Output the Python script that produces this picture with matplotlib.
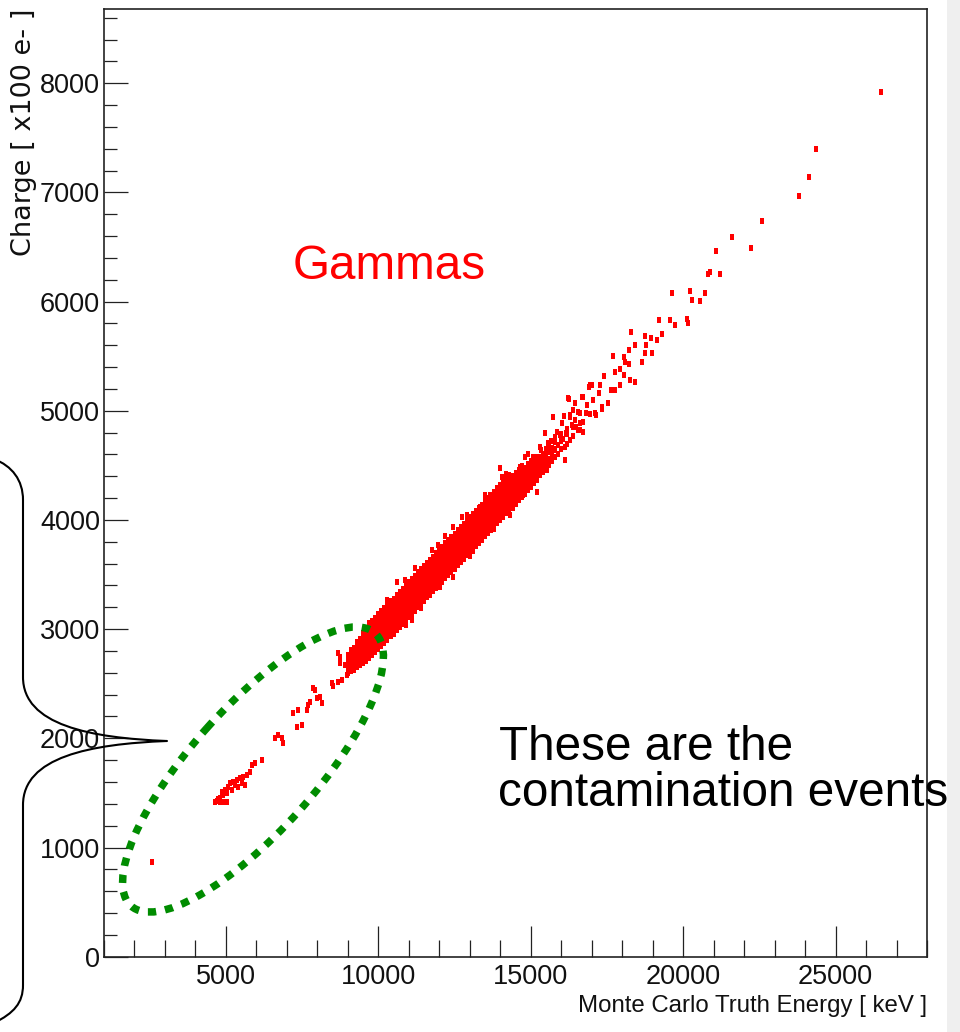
import matplotlib
matplotlib.use("Agg")
import matplotlib.pyplot as plt
from matplotlib.patches import Ellipse, PathPatch, Rectangle
from matplotlib.path import Path
from matplotlib.ticker import MultipleLocator

# ---------------------------------------------------------------- data
# Isolated low-energy events (contamination streak)
low_energy = [2580, 4640, 4695, 4750, 4803, 4912, 5023, 4803, 4912, 4859, 4967,
              5023, 5076, 5131, 5187, 5240, 5296, 5351, 5404, 5460, 5515, 5568,
              5624, 5680, 5788, 5844, 5952, 6192, 6610, 6720, 6830, 6880, 7210,
              7375, 7320, 7485, 7650, 7700, 7755, 7920, 7975, 8085, 8140, 7866,
              8470, 8525, 8690, 8800, 8960, 8690, 8740, 8905, 8742]
low_charge = [864, 1420, 1429, 1440, 1419, 1419, 1419, 1450, 1481, 1511, 1527,
              1496, 1557, 1588, 1527, 1603, 1572, 1618, 1557, 1634, 1588, 1648,
              1572, 1664, 1694, 1755, 1771, 1801, 2000, 2030, 2000, 1960, 2230,
              2260, 2105, 2120, 2260, 2305, 2335, 2440, 2365, 2380, 2320, 2458,
              2505, 2475, 2520, 2535, 2580, 2780, 2690, 2670, 2747]

# Dense main band, one energy column every 100 keV
core_energy = [9000, 9100, 9200, 9300, 9400, 9500, 9600, 9700, 9800, 9900,
               10000, 10100, 10200, 10300, 10400, 10500, 10600, 10700, 10800, 10900,
               11000, 11100, 11200, 11300, 11400, 11500, 11600, 11700, 11800, 11900,
               12000, 12100, 12200, 12300, 12400, 12500, 12600, 12700, 12800, 12900,
               13000, 13100, 13200, 13300, 13400, 13500, 13600, 13700, 13800, 13900,
               14000, 14100, 14200, 14300, 14400, 14500, 14600, 14700, 14800, 14900,
               15000, 15100, 15200, 15300, 15400, 15500, 15600, 15700, 15800, 15900,
               16000, 16200, 16400, 16600]
core_charge = [
    [2600, 2640, 2680, 2720, 2760],
    [2615, 2655, 2695, 2735, 2775, 2810],
    [2630, 2670, 2710, 2750, 2790, 2830],
    [2650, 2690, 2730, 2770, 2810, 2850, 2885],
    [2670, 2710, 2750, 2790, 2830, 2870, 2910],
    [2690, 2730, 2770, 2810, 2850, 2890, 2930, 2965],
    [2710, 2750, 2790, 2830, 2870, 2910, 2950, 2990],
    [2735, 2775, 2815, 2855, 2895, 2935, 2975, 3015],
    [2760, 2800, 2840, 2880, 2920, 2960, 3000, 3040, 3075],
    [2790, 2830, 2870, 2910, 2950, 2990, 3030, 3070, 3105],
    [2820, 2860, 2900, 2940, 2980, 3020, 3060, 3100, 3135],
    [2845, 2885, 2925, 2965, 3005, 3045, 3085, 3125, 3165],
    [2875, 2915, 2955, 2995, 3035, 3075, 3115, 3155, 3195],
    [2905, 2945, 2985, 3025, 3065, 3105, 3145, 3185, 3225],
    [2935, 2975, 3015, 3055, 3095, 3135, 3175, 3215, 3255],
    [2960, 3000, 3040, 3080, 3120, 3160, 3200, 3240, 3280],
    [2990, 3030, 3070, 3110, 3150, 3190, 3230, 3270, 3310],
    [3020, 3060, 3100, 3140, 3180, 3220, 3260, 3300, 3340],
    [3050, 3090, 3130, 3170, 3210, 3250, 3290, 3330, 3370],
    [3080, 3120, 3160, 3200, 3240, 3280, 3320, 3360, 3400],
    [3110, 3150, 3190, 3230, 3270, 3310, 3350, 3390, 3430],
    [3140, 3180, 3220, 3260, 3300, 3340, 3380, 3420, 3460],
    [3170, 3210, 3250, 3290, 3330, 3370, 3410, 3450, 3490],
    [3200, 3240, 3280, 3320, 3360, 3400, 3440, 3480, 3520],
    [3230, 3270, 3310, 3350, 3390, 3430, 3470, 3510, 3550],
    [3260, 3300, 3340, 3380, 3420, 3460, 3500, 3540, 3580],
    [3290, 3330, 3370, 3410, 3450, 3490, 3530, 3570, 3610],
    [3315, 3355, 3395, 3435, 3475, 3515, 3555, 3595, 3635],
    [3345, 3385, 3425, 3465, 3505, 3545, 3585, 3625, 3665],
    [3375, 3415, 3455, 3495, 3535, 3575, 3615, 3655, 3695],
    [3405, 3445, 3485, 3525, 3565, 3605, 3645, 3685, 3725],
    [3435, 3475, 3515, 3555, 3595, 3635, 3675, 3715, 3755],
    [3465, 3505, 3545, 3585, 3625, 3665, 3705, 3745, 3785],
    [3495, 3535, 3575, 3615, 3655, 3695, 3735, 3775, 3815],
    [3525, 3565, 3605, 3645, 3685, 3725, 3765, 3805, 3845],
    [3555, 3595, 3635, 3675, 3715, 3755, 3795, 3835, 3875],
    [3585, 3625, 3665, 3705, 3745, 3785, 3825, 3865, 3905],
    [3615, 3655, 3695, 3735, 3775, 3815, 3855, 3895, 3935],
    [3645, 3685, 3725, 3765, 3805, 3845, 3885, 3925, 3965],
    [3675, 3715, 3755, 3795, 3835, 3875, 3915, 3955, 3995],
    [3705, 3745, 3785, 3825, 3865, 3905, 3945, 3985, 4025],
    [3735, 3775, 3815, 3855, 3895, 3935, 3975, 4015, 4055],
    [3760, 3800, 3840, 3880, 3920, 3960, 4000, 4040, 4080],
    [3790, 3830, 3870, 3910, 3950, 3990, 4030, 4070, 4110],
    [3820, 3860, 3900, 3940, 3980, 4020, 4060, 4100, 4140],
    [3850, 3890, 3930, 3970, 4010, 4050, 4090, 4130, 4170],
    [3880, 3920, 3960, 4000, 4040, 4080, 4120, 4160, 4200],
    [3910, 3950, 3990, 4030, 4070, 4110, 4150, 4190, 4230],
    [3940, 3980, 4020, 4060, 4100, 4140, 4180, 4220, 4260],
    [3970, 4010, 4050, 4090, 4130, 4170, 4210, 4250, 4290],
    [4000, 4040, 4080, 4120, 4160, 4200, 4240, 4280, 4320],
    [4030, 4070, 4110, 4150, 4190, 4230, 4270, 4310, 4350],
    [4060, 4100, 4140, 4180, 4220, 4260, 4300, 4340, 4380],
    [4090, 4130, 4170, 4210, 4250, 4290, 4330, 4370, 4410],
    [4120, 4160, 4200, 4240, 4280, 4320, 4360, 4400],
    [4150, 4190, 4230, 4270, 4310, 4350, 4390, 4430],
    [4180, 4220, 4260, 4300, 4340, 4380, 4420, 4460],
    [4210, 4250, 4290, 4330, 4370, 4410, 4450, 4490],
    [4240, 4280, 4320, 4360, 4400, 4440, 4480],
    [4270, 4310, 4350, 4390, 4430, 4470, 4510],
    [4300, 4340, 4380, 4420, 4460, 4500, 4540],
    [4340, 4380, 4420, 4460, 4500, 4545],
    [4370, 4415, 4455, 4495, 4535, 4580],
    [4410, 4450, 4490, 4530, 4575],
    [4440, 4480, 4520, 4560, 4605],
    [4470, 4520, 4560, 4600, 4650],
    [4500, 4560, 4620, 4670],
    [4540, 4600, 4660],
    [4580, 4640, 4710],
    [4600, 4690],
    [4650, 4720, 4790],
    [4700, 4790],
    [4770, 4850],
    [4820, 4890],
]

# Scattered events around the band edges
spread_energy = [16950, 16238, 16730, 16621, 17114, 17334, 15746, 16020, 16293, 16566,
                 16730, 15473, 15801, 16129, 16129, 15309, 15582, 15910, 16293, 15090,
                 15418, 15145, 15528, 14816, 14652, 14597, 13996, 14051, 15200, 14760,
                 14432, 14324, 13667, 13339, 13230, 12738, 12462, 11970, 12462, 11753,
                 10604, 10877, 11097, 12026, 9291, 15650, 15800, 15950, 16050, 16200,
                 16350, 16450, 16550, 15700, 15900, 16100, 16400, 16700, 16850, 17050,
                 10900, 11400, 13000, 13800, 9700, 10300, 12900, 13500, 14200,
                 15350, 15600, 15850, 16150, 16500, 16800, 12200, 11200, 14900, 13100]
spread_charge = [5235, 5113, 5128, 4976, 4976, 5037, 4945, 4885, 4945, 4823,
                 4808, 4793, 4762, 4549, 4670, 4670, 4701, 4686, 4732, 4579,
                 4518, 4427, 4457, 4579, 4487, 4396, 4472, 4396, 4258, 4228,
                 4106, 4045, 4228, 4121, 4060, 4029, 3938, 3770, 3480, 3724,
                 3434, 3450, 3083, 3388, 2671, 4720, 4650, 4780, 4740, 4830,
                 4870, 4920, 4990, 4560, 4600, 4950, 5010, 4900, 5050, 5100,
                 3040, 3190, 3670, 3920, 3060, 3270, 4050, 4230, 4420,
                 4640, 4700, 4810, 4800, 4850, 4980, 3850, 3560, 4600, 3720]

# Sparse high-energy tail
tail_energy = [26500, 24370, 24130, 23810, 22590, 21590, 22230, 21080, 20810, 20870,
               21210, 19650, 20210, 20290, 20560, 20725, 19215, 19575, 19740, 20125,
               20175, 18305, 18735, 18945, 19140, 19305, 18425, 18790, 17715, 18045,
               18230, 18755, 18985, 18665, 17750, 17935, 18100, 18210, 18065, 18265,
               18425, 17390, 17280, 17640, 17770, 17915, 16240, 16895, 17005, 16675,
               17225, 16460, 16295, 16950, 17145, 17335, 17550]
tail_charge = [7920, 7400, 7140, 6965, 6735, 6590, 6495, 6465, 6250, 6270,
               6250, 6075, 6095, 6015, 6005, 6075, 5835, 5835, 5785, 5845,
               5800, 5720, 5685, 5670, 5645, 5700, 5600, 5600, 5505, 5495,
               5555, 5525, 5525, 5445, 5355, 5380, 5450, 5430, 5325, 5280,
               5265, 5320, 5235, 5190, 5190, 5235, 5105, 5220, 5235, 5130,
               5160, 5070, 4960, 4975, 4960, 5020, 5075]

x_major = 5000
x_minor = 1000
y_major = 1000
y_minor = 200

# ---------------------------------------------------------------- assemble points
energy = list(low_energy)
charge = list(low_charge)
for e, qs in zip(core_energy, core_charge):
    energy += [e] * len(qs)
    charge += qs
energy += spread_energy + tail_energy
charge += spread_charge + tail_charge

# ---------------------------------------------------------------- figure
W, H = 960, 1032
fig = plt.figure(figsize=(W / 100, H / 100), dpi=100)
fig.patch.set_facecolor("white")

tick_font = ["Liberation Sans", "DejaVu Sans"]

ax = fig.add_axes([104 / W, 1 - 956.7 / H, (927 - 104) / W, (956.7 - 9) / H])
ax.set_xlim(1000, 28000)
ax.set_ylim(0, 8680)

rect_marker = [(-0.38, -0.5), (0.38, -0.5), (0.38, 0.5), (-0.38, 0.5), (-0.38, -0.5)]
ax.scatter(energy, charge, s=13, marker=rect_marker, c="#ff0000",
           linewidths=0, zorder=3)

ax.xaxis.set_major_locator(MultipleLocator(x_major))
ax.xaxis.set_minor_locator(MultipleLocator(x_minor))
ax.yaxis.set_major_locator(MultipleLocator(y_major))
ax.yaxis.set_minor_locator(MultipleLocator(y_minor))

ax.tick_params(axis="both", which="both", direction="in", top=False, right=False,
               colors="#222222", width=0.9, labelcolor="#111111")
ax.tick_params(axis="x", which="major", length=22.3, pad=5.5, labelsize=19.5)
ax.tick_params(axis="x", which="minor", length=12.2)
ax.tick_params(axis="y", which="major", length=17.3, pad=2.8, labelsize=19.5)
ax.tick_params(axis="y", which="minor", length=9.4)
for lab in ax.get_xticklabels() + ax.get_yticklabels():
    lab.set_family(tick_font)

for sp in ax.spines.values():
    sp.set_color("#222222")
    sp.set_linewidth(1.2)

ax.set_xlabel("Monte Carlo Truth Energy [ keV ]", loc="right", fontsize=17.3,
              family=["Liberation Sans", "DejaVu Sans"], color="#111111", labelpad=3)
ax.set_ylabel("Charge [ x100 e- ]", loc="top", fontsize=19.5,
              family=["DejaVu Sans"], color="#111111")
ax.yaxis.set_label_coords(-0.0815, 1.0)

# ---------------------------------------------------------------- overlay in pixel units
ov = fig.add_axes([0, 0, 1, 1], zorder=5)
ov.set_xlim(0, W)
ov.set_ylim(H, 0)
ov.axis("off")
ov.patch.set_alpha(0)

# light side strip at the right border
ov.add_patch(Rectangle((947, 0), W - 947, H, facecolor="#efefef", edgecolor="none"))

# dotted outline around the contamination events
ov.add_patch(Ellipse((253, 769.5), width=366, height=124, angle=-48.2, fill=False,
                     edgecolor="#008c00", linewidth=5.4,
                     linestyle=(0, (1.1, 1.2))))

# curly brace on the left
brace = [
    ((-6, 459), Path.MOVETO),
    ((12, 466), Path.CURVE4), ((23, 480), Path.CURVE4), ((23, 500), Path.CURVE4),
    ((23, 677), Path.LINETO),
    ((23, 725), Path.CURVE4), ((90, 738), Path.CURVE4), ((167, 741), Path.CURVE4),
    ((90, 744), Path.CURVE4), ((23, 757), Path.CURVE4), ((23, 805), Path.CURVE4),
    ((23, 985), Path.LINETO),
    ((23, 1003), Path.CURVE4), ((14, 1013), Path.CURVE4), ((-6, 1023), Path.CURVE4),
]
verts, codes = zip(*brace)
ov.add_patch(PathPatch(Path(verts, codes), fill=False, edgecolor="black",
                       linewidth=1.5, capstyle="round", joinstyle="round"))

ov.text(293, 279, "Gammas", color="#ff0000", fontsize=34.3,
        family=["Liberation Sans", "DejaVu Sans"], ha="left", va="baseline")
ov.text(499, 760, "These are the", color="black", fontsize=34.3,
        family=["Liberation Sans", "DejaVu Sans"], ha="left", va="baseline")
ov.text(498, 806, "contamination events", color="black", fontsize=34.3,
        family=["Liberation Sans", "DejaVu Sans"], ha="left", va="baseline")

fig.savefig("out.png", dpi=100)
